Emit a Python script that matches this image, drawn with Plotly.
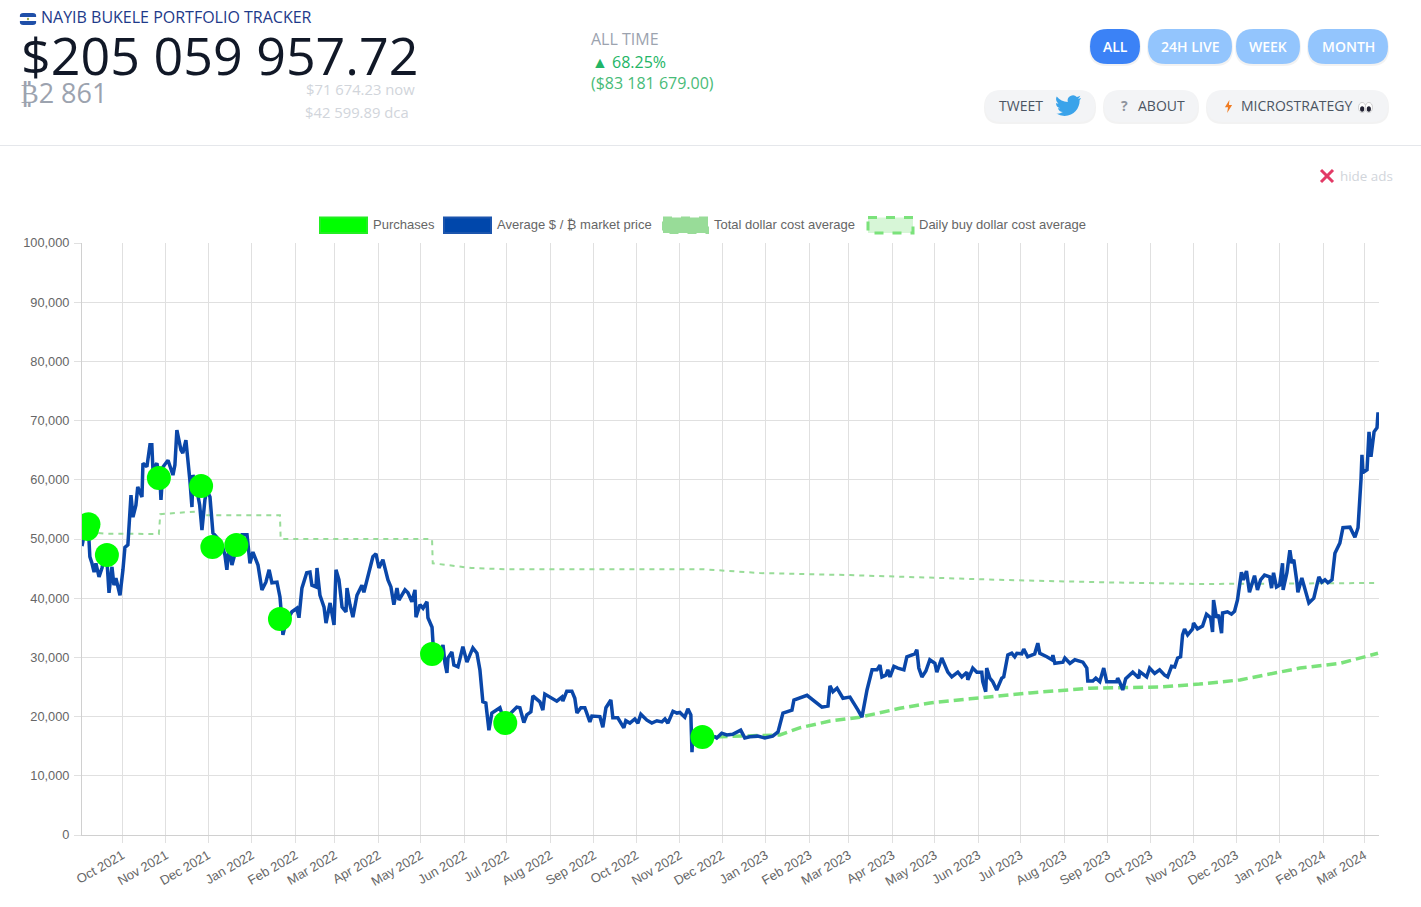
import urllib.parse
import pandas as pd
import plotly.graph_objects as go

W, H = 1421, 907
ORIGIN = pd.Timestamp("2021-10-01")

# Days are counted from 1 Oct 2021
early_days = [-28.6,-27,-25,-24,-23,-21.5,-20,-18.7,-16.5,-14.4,-12.3,-10.9,-9.4,-7.3,-5.9,-4.5,-1.6,0.5,1.9,4,5.5,6.2,7.6,9.7,11,14,14.7,17.5,19.7,21,21.8,24.6,26.8,27.5,29,32.5,36,37.4,38.8,41.7,43,45.2,48,49.5,50.2,53,55,56.6,58.7,60,62.3,64.4,67.2,70.8,72.9,74.3,75.8,77.9,80.7,85,88.6,90.7,92.8,96.4,99.2,102,104.3,106.3,109.9,112,113.4,114.1,116.3,120.5,124,125.5,127.6,131,133.3,134.7,137.6,138.3,140.4,143.3,144.7,147.6,150.4,151.8,153.9,156.1,158.9,159.6,161.7,163.8,166.7,170.2,171.6,174.5,178,180.2,182.3,185.1,188.7,190.8,192.9,195.1,196.5,200.8,202.9,205.7,207.9,208.6,211.4,213.6,216.4,217.1,220,220.7,223.5,227.8,229.2,230.6,231.3,234.1,235.5,238.4,241.9,244.8,249,251.9,254,256.1,258.2,260.4,262.5,268.2,271,280.2]
early_values = [48800,50700,53200,51500,47000,45900,44400,45900,43600,45100,47300,46500,40900,45300,42200,43400,40500,44800,48600,49000,53700,57400,53700,55700,58800,57100,62800,62200,65900,65900,61700,62800,60000,56600,62200,63300,60800,62500,68400,65000,64500,66700,60000,55400,60800,58300,55700,51500,56600,58300,57100,51000,50300,49000,47300,44800,48600,45600,48100,50700,50700,45900,47800,45600,41400,42700,44800,42600,42700,40200,36300,33800,36000,37700,38300,36700,41700,44300,44400,42200,41900,45100,40500,38500,35800,39200,35500,44800,43100,38500,37700,41700,38900,36800,40500,42200,41000,43900,47000,47500,45100,46500,43100,41900,38900,41700,39700,41400,40900,39400,41400,36800,38900,38300,39400,36700,35100,32400,29000,32100,29000,27400,29900,30900,28700,28400,31800,29200,31600,30700,27900,22500,22300,17700,20600,21500,19400,21600]

bear_days = [282.4,285.2,287.3,290.2,291.6,296.6,298.7,300.1,305.8,308.6,312.2,312.9,315.7,319.3,321.4,322.9,325.7,328.5,332.1,333.5,339.2,341.3,343.5,347,348.4,351.9,356.2,357.6,360.5,364,366.2,368.3,372.6,376.1,379.7,383.2,385.4,387.5,391.1,393.9,396,399.5,401.7,403.8,404.6,405.3,410.3,421,422.2,425.7,429.3,433.5,439.2,442.1,445.6,451.3,456.3,461.9,465.7]
bear_values = [21500,19000,20300,20800,23500,22500,21100,23800,23100,22600,23300,22600,24300,24300,23100,20600,21500,21500,19100,20100,20000,18200,21500,22800,19800,19800,18100,19300,18900,19600,18900,20400,19400,18900,19300,19100,19600,18900,20900,20600,20700,19900,21300,20300,14000,17200,16400,16600,16400,17200,16900,17000,17700,16400,16600,16700,16400,16700,17400]

spring_days = [469.2,475.6,477,486.3,496.9,501.2,502.6,504.7,507.6,511.8,516.8,522.5,525.3,528.9,532.5,536]
spring_values = [20600,21100,22800,23600,21600,21800,25200,24200,24800,23100,23300,21100,19900,24500,27900,27900]

summer_days = [538.1,539.5,542.3,543.7,545.2,548,550.8,555.1,557.2,562.9,564.3,565.7,567.9,570.7,573.5,577.1,578.5,582,586.3,589.1,593.4,596.2,599.8,600.5,604,606.9,610.4,611.1,613.2,613.9,616.1,618.2,621,624.6,626,628.9,631.7,633.8,635.3,638.8,640.2,643,648,650.2,651.6,656.6,660.2,660.9,662.3,668,669.4,673,676.5,682.2,685,685.7,689.3,691.4,694.2,697,699.1,706.2,706.9,708.4,710.5,712.6,717.6,721.9]
summer_values = [28700,26700,27000,27900,26700,28500,28200,27900,30100,30600,31300,28200,26700,27700,29600,29000,27500,29900,27500,26700,27500,26700,27500,26200,28200,27500,27500,25900,24200,28200,26500,25900,24500,26500,26700,30400,30700,30100,30700,30600,31400,30100,30600,32400,30700,30100,29600,30400,29000,29200,29900,29000,29600,29200,28200,26000,26000,26500,25900,28200,25900,25900,26500,25800,24500,26400,27500,26500]

rally_days = [722.6,727.5,729.6,733.2,736.7,740.3,742.4,745.2,747.4,749.5,751.6,753,754.4,756.6,760.1,760.8,763.6,767.2,770,772.9,774.3,775,777.1,778.5,780.7,781.4,784.9,787.7,789.9,792,794.8,796.2,798.4,800.5,802.7,804.1,806.2,808.4,811.2,814.8,816.2,817.6,819.7,821.9,824,824.4,827.1,829.2,830.6,832,834.2,834.9,837.7,840.5,842.7,846.2,847.7,849.8,851.9,854.1,856.2,859.1,861.2,864.7,866.9,871.9,875.4,877.6,879.7,880.4,881.1,884,885.4,886.8,889,891.1,891.8]
rally_values = [27600,26700,28200,27300,27900,27000,26700,28500,28400,29900,30100,33800,34800,33800,34800,35800,34800,35300,37300,36700,34300,39700,36700,37200,34100,37500,37700,37300,37800,39700,44400,43100,44600,41000,42700,43800,41400,43100,43900,43600,41700,44300,41900,42200,45900,41400,44300,48100,45900,46500,42700,41000,43400,41000,39200,40000,41700,43600,42700,43100,42600,43100,47600,49300,51900,52000,50300,51900,60000,64200,61200,61700,68100,63900,68100,68800,71400]

price_days = early_days + bear_days + spring_days + summer_days + rally_days
price_values = early_values + bear_values + spring_values + summer_values + rally_values

purchase_days = [-25,-24,-10.9,26,56,64,81,112,220,272,412]
purchase_values = [51700,52500,47300,60300,58950,48650,48990,36490,30570,18920,16550]

total_dca_days = [-24,-12,26,27,56,56.5,112,112.5,220,220.5,248,272,412,452.9,516.8,552,623,694,765,891.8]
total_dca_values = [51200,50900,50850,54200,54700,54000,54000,50000,50000,45900,45100,44900,44900,44250,43900,43600,43100,42700,42400,42570]

daily_dca_days = [412.1,424.5,467,481,502.6,523.8,552.2,573.6,602,644.6,687,737,765,793.8,836.4,864.8,891.8]
daily_dca_values = [16600,16600,16900,18100,19250,19900,21400,22300,23000,24000,24800,25000,25500,26200,28200,29000,30700]

legend_labels = ["Purchases", "Average $ / ₿ market price", "Total dollar cost average", "Daily buy dollar cost average"]


def to_dates(days):
    return ORIGIN + pd.to_timedelta(days, unit="D")


def px(x):
    return x / W


def py(y):
    return 1 - y / H


def rounded(x0, y0, x1, y1, r):
    p = [
        (x0 + r, y0), (x1 - r, y0), (x1, y0), (x1, y0 + r), (x1, y1 - r), (x1, y1),
        (x1 - r, y1), (x0 + r, y1), (x0, y1), (x0, y1 - r), (x0, y0 + r), (x0, y0),
    ]
    q = [f"{px(a):.5f},{py(b):.5f}" for a, b in p]
    return (
        f"M{q[0]} L{q[1]} Q{q[2]} {q[3]} L{q[4]} Q{q[5]} {q[6]} L{q[7]} "
        f"Q{q[8]} {q[9]} L{q[10]} Q{q[11]} {q[0]} Z"
    )


shapes, annotations, images = [], [], []


def pill(x0, y0, x1, y1, fill):
    r = (y1 - y0) / 2
    shapes.append(dict(type="path", path=rounded(x0 - 1, y0 + 1, x1 + 1, y1 + 2, r), xref="paper", yref="paper",
                       fillcolor="rgba(0,0,0,0.05)", line_width=0, layer="below"))
    shapes.append(dict(type="path", path=rounded(x0, y0, x1, y1, r), xref="paper", yref="paper",
                       fillcolor=fill, line_width=0, layer="below"))


def label(x, y, text, size, color, family="Open Sans", anchor="left", weight=None):
    font = dict(family=family, size=size, color=color)
    if weight:
        font["weight"] = weight
    annotations.append(dict(x=px(x), y=py(y), xref="paper", yref="paper", text=text, showarrow=False,
                            xanchor=anchor, yanchor="middle", borderpad=0, borderwidth=0, font=font))


def svg_image(svg, x, y, w, h):
    images.append(dict(source="data:image/svg+xml," + urllib.parse.quote(svg), xref="paper", yref="paper",
                       x=px(x), y=py(y), sizex=w / W, sizey=h / H, xanchor="left", yanchor="top",
                       sizing="stretch", layer="above"))


# Header
flag = ("<svg xmlns='http://www.w3.org/2000/svg' viewBox='0 0 18 12'><clipPath id='c'><rect width='18' height='12' rx='4'/></clipPath>"
        "<g clip-path='url(#c)'><rect width='18' height='12' fill='#fff'/><rect width='18' height='4' fill='#1f4fa8'/>"
        "<rect y='8' width='18' height='4' fill='#1f4fa8'/><circle cx='9' cy='6' r='1.2' fill='#9aa84f'/></g></svg>")
svg_image(flag, 19.5, 13, 17, 12)
label(41, 17.5, "NAYIB BUKELE PORTFOLIO TRACKER", 16, "#1e3a8a")
label(21, 54, "$205 059 957.72", 52, "#111827", weight=500)
label(20, 92.5, "₿2 861", 27, "#9ca3af")
label(415, 88.5, "$71 674.23 now", 14.8, "#d1d5db", anchor="right")
label(305, 111.5, "$42 599.89 dca", 14.8, "#d1d5db")
label(591, 39, "ALL TIME", 16, "#9ca3af")
label(592, 61.5, "▲ 68.25%", 16, "#22b566")
label(591, 83, "($83 181 679.00)", 16, "#48bb78")

# Buttons
for x0, x1, text, fill in [(1090, 1140, "ALL", "#3b82f6"), (1148, 1232, "24H LIVE", "#93c5fd"),
                           (1236, 1300, "WEEK", "#93c5fd"), (1308, 1388, "MONTH", "#93c5fd")]:
    pill(x0, 29, x1, 64, fill)
    label((x0 + x1) / 2, 46, text, 14, "#ffffff", anchor="center", weight=600)
for x0, x1 in [(985, 1095), (1104, 1198), (1207, 1388)]:
    pill(x0, 90, x1, 122, "#f3f4f6")
label(999, 105.5, "TWEET", 14, "#4b5563")
label(1138, 105.5, "ABOUT", 14, "#4b5563")
label(1121, 105.5, "<b>?</b>", 14, "#8f959e")
label(1241, 105.5, "MICROSTRATEGY", 14, "#4b5563")
bird = ("<svg xmlns='http://www.w3.org/2000/svg' viewBox='0 0 24 24'><path fill='#3aa3ea' d='M23.953 4.57a10 10 0 01-2.825.775 4.958 4.958 0 002.163-2.723c-.951.555-2.005.959-3.127 1.184a4.92 4.92 0 00-8.384 4.482C7.69 8.095 4.067 6.13 1.64 3.162a4.822 4.822 0 00-.666 2.475c0 1.71.87 3.213 2.188 4.096a4.904 4.904 0 01-2.228-.616v.06a4.923 4.923 0 003.946 4.827 4.996 4.996 0 01-2.212.085 4.936 4.936 0 004.604 3.417 9.867 9.867 0 01-6.102 1.51 13.995 13.995 0 007.557 2.209c9.053 0 13.998-7.496 13.998-13.985 0-.21 0-.42-.015-.63A9.935 9.935 0 0024 4.59z'/></svg>")
svg_image(bird, 1055, 93, 26, 26)
bolt = ("<svg xmlns='http://www.w3.org/2000/svg' viewBox='0 0 10 16'><path fill='#f07c22' d='M6 0 L1 9 H4.5 L3.5 16 L9 6 H5.5 Z'/></svg>")
svg_image(bolt, 1224, 100, 9, 13)
eyes = ("<svg xmlns='http://www.w3.org/2000/svg' viewBox='0 0 18 12'><ellipse cx='5' cy='6' rx='4.4' ry='5.5' fill='#fff' stroke='#bbb' stroke-width='.8'/>"
        "<ellipse cx='13' cy='6' rx='4.4' ry='5.5' fill='#fff' stroke='#bbb' stroke-width='.8'/><ellipse cx='5' cy='7.5' rx='2.5' ry='3' fill='#223'/>"
        "<ellipse cx='13' cy='7.5' rx='2.5' ry='3' fill='#223'/></svg>")
svg_image(eyes, 1358, 102, 15, 11)

# Rule and "hide ads"
shapes.append(dict(type="line", xref="paper", yref="paper", x0=0, x1=1, y0=py(145.5), y1=py(145.5),
                   line=dict(color="#e5e7eb", width=1), layer="below"))
for a, b in [((1321, 170), (1333, 182)), ((1333, 170), (1321, 182))]:
    shapes.append(dict(type="line", xref="paper", yref="paper", x0=px(a[0]), y0=py(a[1]), x1=px(b[0]), y1=py(b[1]),
                       line=dict(color="#e23a66", width=3)))
label(1340, 176, "hide ads", 13.4, "#d1d5db")

# Chart legend
swatches = [
    (320, 367, "#00ff00", "#22ee22", "solid", 373),
    (444, 491, "#0047ab", "#1c55ad", "solid", 497),
    (663, 708, "#98dc98", "#98dc98", "dash", 714),
    (868, 913, "rgba(123,226,123,0.3)", "#7be27b", "dash", 919),
]
for (x0, x1, fill, edge, dash, tx), text in zip(swatches, legend_labels):
    shapes.append(dict(type="rect", xref="paper", yref="paper", x0=px(x0), x1=px(x1), y0=py(217.5), y1=py(233),
                       fillcolor=fill, line=dict(color=edge, width=3 if fill.startswith("rgba") else 2, dash=dash)))
    label(tx, 224.5, text, 13, "#666666", family="Liberation Sans")

fig = go.Figure()
fig.add_trace(go.Scatter(x=to_dates(total_dca_days), y=total_dca_values, mode="lines", name=legend_labels[2],
                         line=dict(color="#98dc98", width=2, dash="5px,5px"), showlegend=False))
fig.add_trace(go.Scatter(x=to_dates(daily_dca_days), y=daily_dca_values, mode="lines", name=legend_labels[3],
                         line=dict(color="#7be27b", width=3.5, dash="10px,5px"), showlegend=False))
fig.add_trace(go.Scatter(x=to_dates(price_days), y=price_values, mode="lines", name=legend_labels[1],
                         line=dict(color="#0a47a9", width=3.5), showlegend=False))
fig.add_trace(go.Scatter(x=to_dates(purchase_days), y=purchase_values, mode="markers", name=legend_labels[0],
                         marker=dict(color="#00ff00", size=24, line=dict(width=0)), showlegend=False))

grid = "#e0e0e0"
fig.update_layout(
    width=W, height=H, autosize=False, margin=dict(l=0, r=0, t=0, b=0, pad=0),
    paper_bgcolor="#ffffff", plot_bgcolor="#ffffff", showlegend=False,
    font=dict(family="Liberation Sans", size=13, color="#666666"),
    shapes=shapes, annotations=annotations, images=images,
    xaxis=dict(type="date", domain=[px(82), px(1379)], range=["2021-09-02 10:00", "2024-03-11 12:00"],
               dtick="M1", tick0="2021-10-01", tickformat="%b %Y", tickangle=-30,
               showgrid=True, gridcolor=grid, gridwidth=1, ticks="outside", ticklen=7, tickcolor=grid,
               showline=True, linecolor="#d0d0d0", linewidth=1, automargin=False, zeroline=False,
               tickfont=dict(family="Liberation Sans", size=13, color="#666666")),
    yaxis=dict(domain=[py(835), py(243)], range=[0, 100000], dtick=10000, tickformat=",d",
               showgrid=True, gridcolor=grid, gridwidth=1, ticks="outside", ticklen=7, tickcolor=grid,
               showline=True, linecolor="#d0d0d0", linewidth=1, automargin=False, zeroline=False,
               ticklabelstandoff=2,
               tickfont=dict(family="Liberation Sans", size=12.8, color="#666666")),
)

fig.write_html("out.html", config=dict(displayModeBar=False),
               post_script="document.body.style.margin='0';document.body.style.overflow='hidden';")
